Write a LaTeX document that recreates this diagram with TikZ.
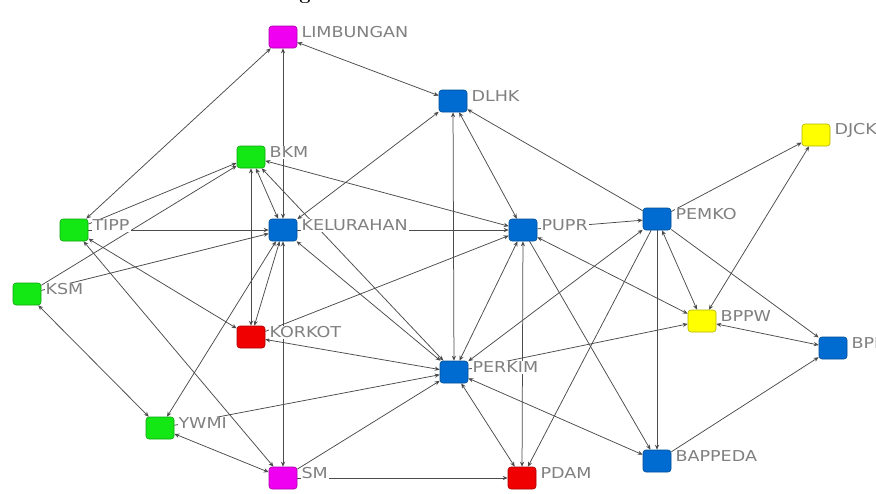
\documentclass[tikz,border=0pt]{standalone}
\usepackage{fontspec}
\usetikzlibrary{arrows.meta}
\newfontfamily\lblfont[FakeStretch=1.17]{DejaVu Sans}
\definecolor{nblue}{RGB}{0,108,210}
\definecolor{ngreen}{RGB}{20,232,20}
\definecolor{nmag}{RGB}{240,0,240}
\definecolor{nred}{RGB}{240,0,0}
\definecolor{nyel}{RGB}{255,255,0}
\definecolor{lblgray}{RGB}{128,128,128}
\definecolor{edgegray}{RGB}{75,75,75}
\pgfdeclarelayer{bg}
\pgfsetlayers{bg,main}
\begin{document}
\begin{tikzpicture}[x=1pt, y=-1pt, >={Stealth[length=5pt,width=4.2pt]}, line join=round, line cap=round,
	actor/.style={draw=#1!70!black, fill=#1, rounded corners=3pt, minimum width=28pt, minimum height=22pt, inner sep=0pt, line width=0.6pt},
	lab/.style={font=\lblfont\fontsize{15}{15}\selectfont, text=lblgray, fill=white, inner sep=1pt, label distance=3pt, yshift=4.5pt},
	tie/.style={draw=edgegray, line width=0.75pt}]
	\useasboundingbox (0,0) rectangle (876,493);
	% cut-off title
	\node[font=\bfseries\fontsize{20}{20}\selectfont, anchor=base] (ttl) at (305,-1) {g};
	% actors
	\node[actor=nmag, label={[lab]right:LIMBUNGAN}] (lim) at (283,37) {};
	\node[actor=nblue, label={[lab]right:DLHK}] (dlhk) at (453,101) {};
	\node[actor=nyel, label={[lab]right:DJCK}] (djck) at (816,135) {};
	\node[actor=ngreen, label={[lab]right:BKM}] (bkm) at (251,157) {};
	\node[actor=ngreen, label={[lab]right:TIPP}] (tipp) at (74,230) {};
	\node[actor=nblue, label={[lab]right:KELURAHAN}] (kel) at (283,230) {};
	\node[actor=nblue, label={[lab]right:PUPR}] (pupr) at (523,230) {};
	\node[actor=nblue, label={[lab]right:PEMKO}] (pemko) at (657,219) {};
	\node[actor=ngreen, label={[lab]right:KSM}] (ksm) at (27,294) {};
	\node[actor=nred, label={[lab]right:KORKOT}] (korkot) at (251,337) {};
	\node[actor=nyel, label={[lab]right:BPPW}] (bppw) at (702,321) {};
	\node[actor=nblue, label={[lab]right:BPN}] (bpn) at (833,348) {};
	\node[actor=nblue, label={[lab]right:PERKIM}] (perkim) at (454,372) {};
	\node[actor=ngreen, label={[lab]right:YWMI}] (ywmi) at (160,428) {};
	\node[actor=nmag, label={[lab]right:SM}] (sm) at (283,478) {};
	\node[actor=nred, label={[lab]right:PDAM}] (pdam) at (522,478) {};
	\node[actor=nblue, label={[lab]right:BAPPEDA}] (bappeda) at (657,461) {};
	% ties
	\begin{pgfonlayer}{bg}
	\foreach \a/\b in {lim/tipp, lim/kel, lim/dlhk, dlhk/kel, dlhk/perkim, dlhk/pupr, djck/bppw,
		bkm/kel, bkm/perkim, bkm/korkot, bkm/pupr, kel/korkot, tipp/korkot, korkot/perkim, kel/ywmi,
		kel/sm, kel/perkim, tipp/sm, ksm/ywmi, ywmi/sm, perkim/pupr, perkim/pemko, perkim/pdam,
		perkim/bappeda, pupr/pdam, pupr/bppw, pemko/bppw, bppw/bpn}
		\draw[tie, <->] (\a) -- (\b);
	\foreach \a/\b in {pemko/dlhk, pemko/djck, tipp/bkm, ksm/bkm, kel/pupr, korkot/pupr, tipp/kel,
		ksm/kel, ywmi/perkim, sm/perkim, sm/pdam, perkim/bppw, pupr/pemko, pupr/bappeda,
		pemko/pdam, pemko/bappeda, pemko/bpn, bappeda/bpn}
		\draw[tie, ->] (\a) -- (\b);
	\end{pgfonlayer}
\end{tikzpicture}
\end{document}
